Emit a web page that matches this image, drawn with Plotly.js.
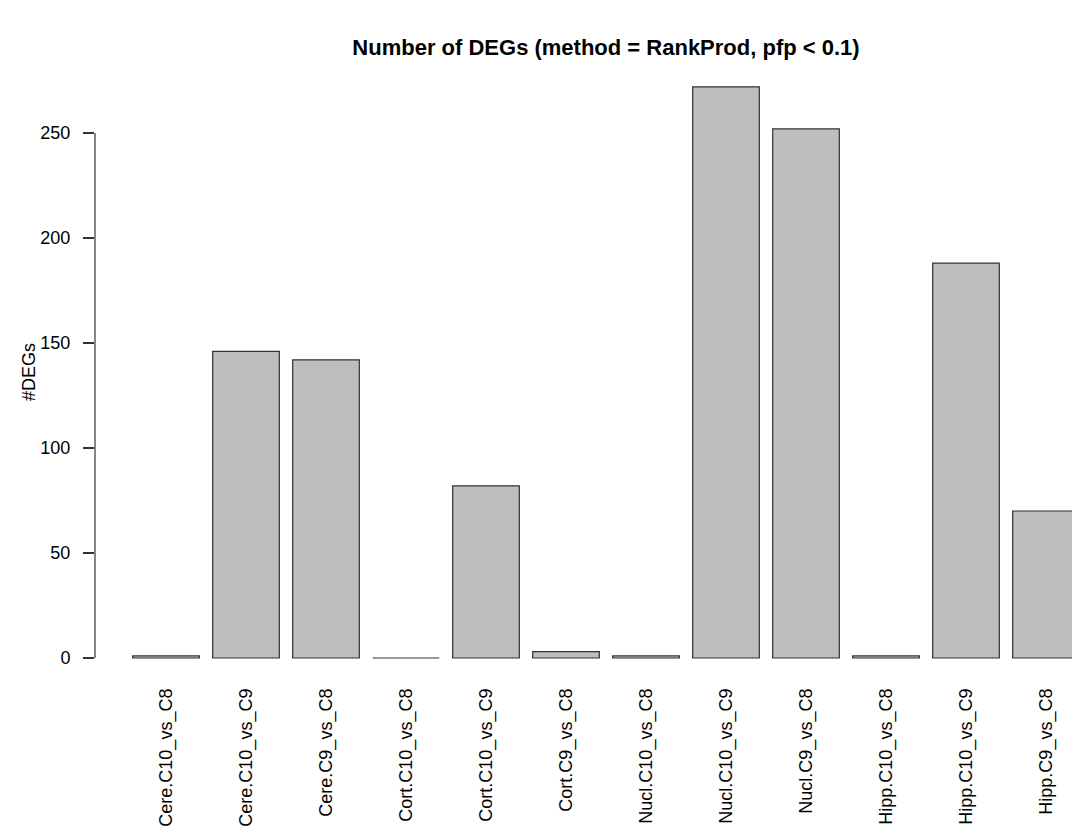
<!DOCTYPE html>
<html>
<head>
<meta charset="utf-8">
<script src="https://cdn.plot.ly/plotly-3.0.1.min.js"></script>
<style>
  html, body { margin: 0; padding: 0; background: #ffffff; }
  #chart { width: 1072px; height: 830px; }
</style>
</head>
<body>
<div id="chart"></div>
<script>
// Comparisons (region.contrast) and the number of DEGs found for each
const comparisons = [
  "Cere.C10_vs_C8", "Cere.C10_vs_C9", "Cere.C9_vs_C8",
  "Cort.C10_vs_C8", "Cort.C10_vs_C9", "Cort.C9_vs_C8",
  "Nucl.C10_vs_C8", "Nucl.C10_vs_C9", "Nucl.C9_vs_C8",
  "Hipp.C10_vs_C8", "Hipp.C10_vs_C9", "Hipp.C9_vs_C8"
];
const degCounts = [1, 146, 142, 0, 82, 3, 1, 272, 252, 1, 188, 70];
const yTicks = [0, 50, 100, 150, 200, 250];

const FONT = "Liberation Sans, Arial, Helvetica, sans-serif";
const INK = "#333333";

const trace = {
  type: "bar",
  x: comparisons,
  y: degCounts,
  width: 0.8333,
  marker: { color: "#bebebe", line: { color: INK, width: 1.2 } },
  hoverinfo: "x+y"
};

const layout = {
  width: 1072,
  height: 830,
  margin: { l: 95, r: 0, t: 60, b: 160, pad: 0 },
  paper_bgcolor: "#ffffff",
  plot_bgcolor: "#ffffff",
  showlegend: false,
  font: { family: FONT, color: "#000000", size: 18 },
  title: {
    text: "<b>Number of DEGs (method = RankProd, pfp < 0.1)</b>",
    font: { family: FONT, size: 22, color: "#000000" },
    xref: "container", x: 606 / 1072, xanchor: "center",
    yref: "container", y: 1 - 47 / 830, yanchor: "middle"
  },
  xaxis: {
    type: "category",
    categoryorder: "array",
    categoryarray: comparisons,
    range: [-0.8875, 11.325],
    showline: false,
    showgrid: false,
    zeroline: false,
    ticks: "",
    tickangle: -90,
    ticklabelstandoff: 14,
    tickfont: { family: FONT, size: 18, color: "#000000" },
    automargin: false,
    fixedrange: true
  },
  yaxis: {
    range: [-5.714, 284.76],
    tickvals: yTicks,
    ticktext: yTicks.map(String),
    showline: false,
    showgrid: false,
    zeroline: false,
    ticks: "outside",
    ticklen: 11,
    tickwidth: 1.2,
    tickcolor: INK,
    ticklabelstandoff: 9,
    tickfont: { family: FONT, size: 18, color: "#000000" },
    automargin: false,
    fixedrange: true
  },
  shapes: [
    // R-style axis line spanning only the tick range
    {
      type: "line", xref: "paper", yref: "y",
      x0: 0, x1: 0, y0: yTicks[0], y1: yTicks[yTicks.length - 1],
      line: { color: INK, width: 1.2 }
    }
  ],
  annotations: [
    {
      text: "#DEGs",
      textangle: -90,
      showarrow: false,
      xref: "paper", x: (29 - 95) / 977, xanchor: "center",
      yref: "paper", y: (670 - 372) / 610, yanchor: "middle",
      font: { family: FONT, size: 18, color: "#000000" }
    }
  ],
  bargap: 0.1667
};

Plotly.newPlot("chart", [trace], layout, { displayModeBar: false, staticPlot: true });
</script>
</body>
</html>
